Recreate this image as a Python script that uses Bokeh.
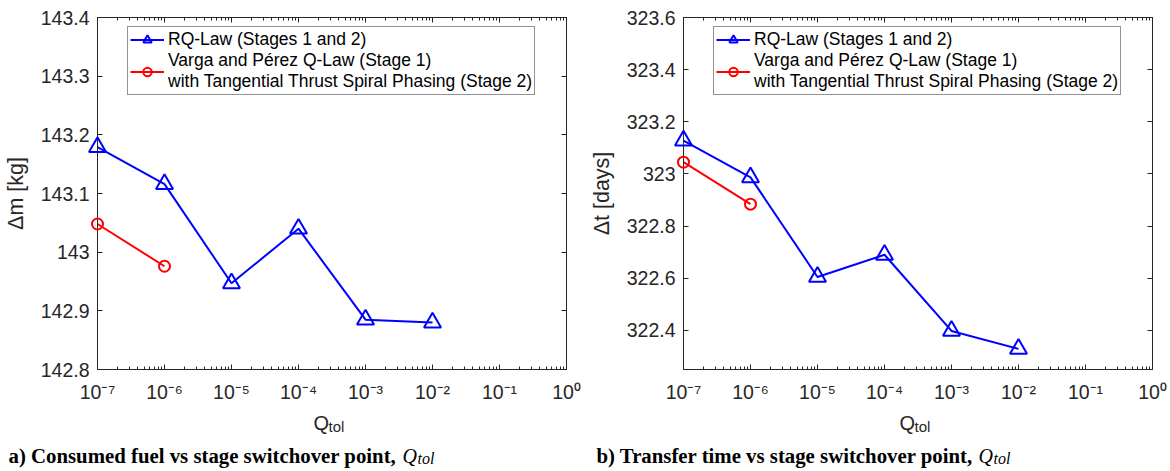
from bokeh.plotting import figure
from bokeh.layouts import row
from bokeh.models import (Range1d, FixedTicker, CustomJSTickFormatter, LinearAxis, LogAxis,
                          Legend, LegendItem, ColumnDataSource)
from bokeh.core.properties import value
from bokeh.embed import file_html
from bokeh.resources import INLINE

# ---------------- data ----------------
q_tol_rq = [1e-7, 1e-6, 1e-5, 1e-4, 1e-3, 1e-2]
q_tol_vp = [1e-7, 1e-6]
dm_rq = [143.179, 143.116, 142.947, 143.040, 142.885, 142.880]
dm_vp = [143.048, 142.976]
dt_rq = [323.128, 322.987, 322.605, 322.690, 322.398, 322.329]
dt_vp = [323.045, 322.884]

x_ticks = [1e-7, 1e-6, 1e-5, 1e-4, 1e-3, 1e-2, 1e-1, 1e0]
x_tick_labels = ["10⁻⁷", "10⁻⁶", "10⁻⁵", "10⁻⁴", "10⁻³", "10⁻²", "10⁻¹", "10⁰"]
dm_ticks = [142.8, 142.9, 143.0, 143.1, 143.2, 143.3, 143.4]
dm_tick_labels = ["142.8", "142.9", "143", "143.1", "143.2", "143.3", "143.4"]
dt_ticks = [322.4, 322.6, 322.8, 323.0, 323.2, 323.4, 323.6]
dt_tick_labels = ["322.4", "322.6", "322.8", "323", "323.2", "323.4", "323.6"]

label_rq = "RQ-Law (Stages 1 and 2)"
label_vp = "Varga and Pérez Q-Law (Stage 1)\nwith Tangential Thrust Spiral Phasing (Stage 2)"
ylabel_a = "Δm [kg]"
ylabel_b = "Δt [days]"
caption_a = "a) Consumed fuel vs stage switchover point,"
caption_b = "b) Transfer time vs stage switchover point,"

AX = "#262626"
SANS = "Liberation Sans"
SERIF = "Liberation Serif"

x_minor = [m * 10.0 ** e for e in range(-7, 0) for m in range(2, 10)]

def lookup_formatter(tk, lb, log=False):
    code = """
    let best = 0, bd = Infinity;
    for (let i = 0; i < tk.length; i++) {
        const d = LOG ? Math.abs(Math.log10(tick) - Math.log10(tk[i])) : Math.abs(tick - tk[i]);
        if (d < bd) { bd = d; best = i; }
    }
    return lb[best];
    """.replace("LOG", "true" if log else "false")
    return CustomJSTickFormatter(args=dict(tk=tk, lb=lb), code=code)

def style_axis(ax):
    ax.axis_line_color = AX
    ax.axis_line_width = 1
    ax.major_tick_line_color = AX
    ax.minor_tick_line_color = AX
    ax.major_tick_in = 5
    ax.major_tick_out = 0
    ax.minor_tick_in = 3
    ax.minor_tick_out = 0
    ax.major_label_text_font = SANS
    ax.major_label_text_color = AX
    ax.major_label_text_font_size = "19.5px"
    ax.axis_label_text_font = SANS
    ax.axis_label_text_font_style = "normal"
    ax.axis_label_text_color = AX
    ax.axis_label_text_font_size = "21.5px"


def add_text(p, text, dx, dy, font, size, style="normal", color="black"):
    # anchored at the frame's bottom-left corner; dx, dy are pixel offsets (dy downward)
    x0 = p.x_range.start
    y0 = p.y_range.start
    p.text(x=[x0], y=[y0], text=[text], x_offset=dx, y_offset=dy,
           text_font=value(font), text_font_size=size, text_font_style=style,
           text_color=color, text_baseline="alphabetic", text_align="left", level="overlay")


def make_panel(y_vals_rq, y_vals_vp, y_range, y_ticks, y_tick_labels, ylabel,
               border_left, border_right, caption, cap_x, capq_x):
    p = figure(x_axis_type="log", x_range=Range1d(1e-7, 1e0), y_range=y_range,
               frame_width=469, frame_height=352,
               min_border_left=border_left, min_border_right=border_right,
               min_border_top=17, min_border_bottom=102,
               output_backend="svg", toolbar_location=None)
    p.xgrid.visible = False
    p.ygrid.visible = False
    p.outline_line_color = AX
    p.background_fill_color = "white"
    p.border_fill_color = "white"

    xt = FixedTicker(ticks=x_ticks, minor_ticks=x_minor)
    yt = FixedTicker(ticks=y_ticks, minor_ticks=[])

    xa = p.xaxis[0]
    xa.ticker = xt
    xa.formatter = lookup_formatter(x_ticks, x_tick_labels, log=True)
    style_axis(xa)
    xa.major_label_standoff = 11

    ya = p.yaxis[0]
    ya.ticker = yt
    ya.formatter = lookup_formatter(y_ticks, y_tick_labels)
    style_axis(ya)
    ya.major_label_standoff = 8
    ya.axis_label = ylabel
    ya.axis_label_standoff = 10

    top = LogAxis(ticker=xt, formatter=CustomJSTickFormatter(code="return '';"))
    style_axis(top)
    top.major_label_standoff = 0
    p.add_layout(top, "above")
    right = LinearAxis(ticker=yt, formatter=CustomJSTickFormatter(code="return '';"))
    style_axis(right)
    right.major_label_standoff = 0
    p.add_layout(right, "right")

    src_rq = ColumnDataSource(dict(x=q_tol_rq, y=y_vals_rq))
    src_vp = ColumnDataSource(dict(x=q_tol_vp, y=y_vals_vp))
    l1 = p.line("x", "y", source=src_rq, line_color="#0000ff", line_width=2)
    m1 = p.scatter("x", "y", source=src_rq, marker="triangle", size=17, fill_color=None,
                   line_color="#0000ff", line_width=2, level="overlay")
    l2 = p.line("x", "y", source=src_vp, line_color="#ff0000", line_width=2)
    m2 = p.scatter("x", "y", source=src_vp, marker="circle", size=11, fill_color=None,
                   line_color="#ff0000", line_width=2, level="overlay")

    leg = Legend(items=[LegendItem(label=label_rq, renderers=[l1, m1]),
                        LegendItem(label=label_vp, renderers=[l2, m2])],
                 location=(30, 274))
    leg.label_text_font = SANS
    leg.label_text_font_size = "17.5px"
    leg.label_text_color = "black"
    leg.label_text_line_height = 1.2
    leg.border_line_color = AX
    leg.border_line_width = 1
    leg.background_fill_color = "white"
    leg.background_fill_alpha = 1
    leg.padding = 2
    leg.spacing = 0
    leg.margin = 0
    leg.glyph_width = 34
    leg.glyph_height = 21
    leg.label_height = 21
    leg.label_standoff = 4
    p.add_layout(leg)

    # x-axis title Q_tol (Q with subscript tol)
    add_text(p, "Q", 216, 53, SANS, "20px", color=AX)
    add_text(p, "tol", 231, 57, SANS, "15px", color=AX)
    # panel caption
    add_text(p, caption, cap_x, 86, SERIF, "20.8px", style="bold")
    add_text(p, "Q", capq_x, 86, SERIF, "20px", style="italic")
    add_text(p, "tol", capq_x + 15, 89, SERIF, "16px", style="italic")
    return p


p1 = make_panel(dm_rq, dm_vp, Range1d(142.8, 143.4), dm_ticks, dm_tick_labels, ylabel_a,
                96, 20, caption_a, -89, 305)
p2 = make_panel(dt_rq, dt_vp, Range1d(322.25, 323.6), dt_ticks, dt_tick_labels, ylabel_b,
                94, 22, caption_b, -87, 295)

layout = row(p1, p2)
open("out.html", "w", encoding="utf-8").write(file_html(layout, INLINE))
